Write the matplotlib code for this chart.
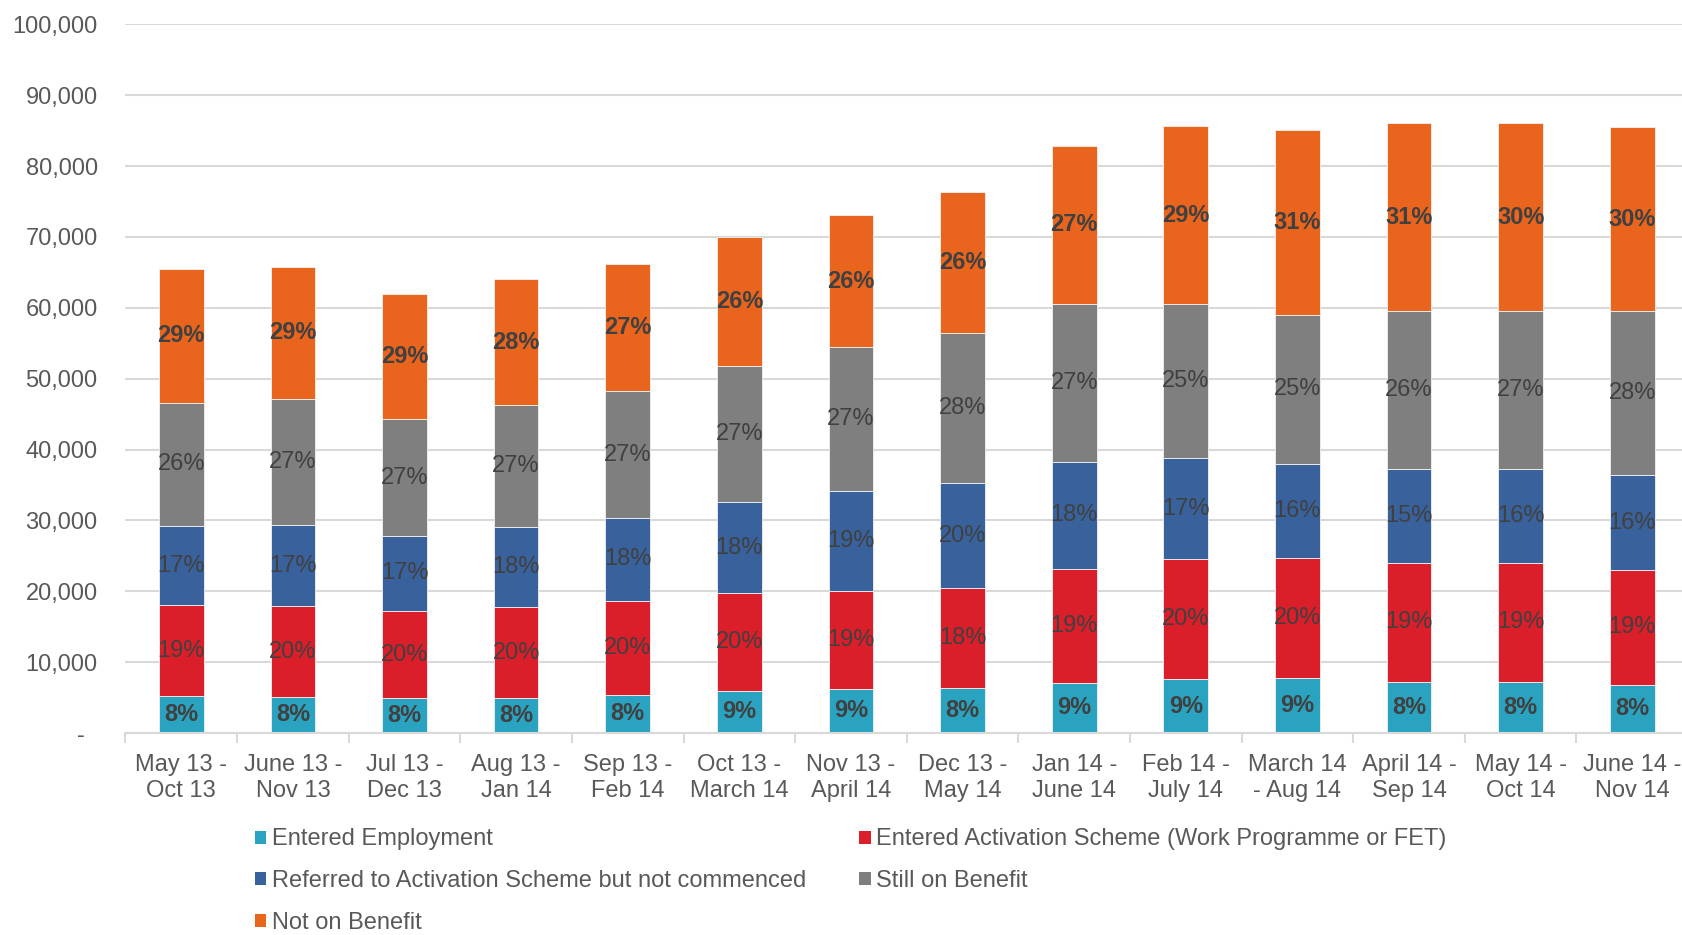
import matplotlib
matplotlib.use("Agg")
import matplotlib.pyplot as plt
from matplotlib.patches import Patch
from matplotlib.ticker import FuncFormatter, FixedLocator
import numpy as np

plt.rcParams['font.family'] = ['Liberation Sans', 'DejaVu Sans']

## periods along the x axis
periods = ["May 13 -\nOct 13", "June 13 -\nNov 13", "Jul 13 -\nDec 13", "Aug 13 -\nJan 14",
           "Sep 13 -\nFeb 14", "Oct 13 -\nMarch 14", "Nov 13 -\nApril 14", "Dec 13 -\nMay 14",
           "Jan 14 -\nJune 14", "Feb 14 -\nJuly 14", "March 14\n- Aug 14", "April 14 -\nSep 14",
           "May 14 -\nOct 14", "June 14 -\nNov 14"]

## counts per outcome (stacked bottom to top)
entered_employment = [5200, 5100, 4900, 4900, 5400, 6000, 6250, 6400, 7100, 7600, 7700, 7200, 7200, 6800]
entered_activation = [12800, 12800, 12350, 12900, 13300, 13700, 13850, 14000, 16100, 16900, 17000, 16800, 16800, 16200]
referred_not_started = [11200, 11400, 10550, 11300, 11600, 12900, 14100, 14900, 15100, 14300, 13300, 13200, 13200, 13400]
still_on_benefit = [17400, 17800, 16500, 17200, 17900, 19200, 20200, 21100, 22200, 21700, 21000, 22300, 22300, 23100]
not_on_benefit = [18900, 18700, 17700, 17700, 18000, 18200, 18700, 19900, 22400, 25100, 26100, 26600, 26600, 26000]

## percentage labels as printed on the bars
pct_employment = [8, 8, 8, 8, 8, 9, 9, 8, 9, 9, 9, 8, 8, 8]
pct_activation = [19, 20, 20, 20, 20, 20, 19, 18, 19, 20, 20, 19, 19, 19]
pct_referred = [17, 17, 17, 18, 18, 18, 19, 20, 18, 17, 16, 15, 16, 16]
pct_still = [26, 27, 27, 27, 27, 27, 27, 28, 27, 25, 25, 26, 27, 28]
pct_not = [29, 29, 29, 28, 27, 26, 26, 26, 27, 29, 31, 31, 30, 30]

series = [
    ("Entered Employment", entered_employment, pct_employment, "#2AA3C0", "bold"),
    ("Entered Activation Scheme (Work Programme or FET)", entered_activation, pct_activation, "#DA1F2A", "normal"),
    ("Referred to Activation Scheme but not commenced", referred_not_started, pct_referred, "#39629C", "normal"),
    ("Still on Benefit", still_on_benefit, pct_still, "#7F7F7F", "normal"),
    ("Not on Benefit", not_on_benefit, pct_not, "#E9651E", "bold"),
]

fig = plt.figure(figsize=(16.82, 9.35), dpi=100)
ax = fig.add_axes([0.0746, 0.216, 0.929, 0.758])

x = np.arange(len(periods))
bottom = np.zeros(len(periods))
handles = []
for name, vals, pcts, col, weight in series:
    bars = ax.bar(x, vals, 0.4, bottom=bottom, color=col, edgecolor="#f2f2f2", linewidth=0.6, zorder=3)
    ax.bar_label(bars, labels=[f"{p}%" for p in pcts], label_type="center",
                 fontsize=17, color="#404040", fontweight=weight)
    bottom += np.array(vals)
    handles.append(Patch(facecolor=col, label=name))

ax.set_xlim(-0.5, len(periods) - 0.5)
ax.set_ylim(0, 100000)
ax.set_yticks(np.arange(0, 100001, 10000))
ax.yaxis.set_major_formatter(FuncFormatter(lambda v, p: "-  " if v == 0 else f"{v:,.0f}"))
ax.grid(axis="y", color="#D9D9D9", linewidth=1.5, zorder=0)
ax.set_axisbelow(True)
for s in ["top", "right", "left"]:
    ax.spines[s].set_visible(False)
ax.spines["bottom"].set_color("#D9D9D9")
ax.spines["bottom"].set_linewidth(1.5)
ax.spines["bottom"].set_zorder(4)

ax.tick_params(axis="y", length=0, pad=20, labelsize=17, labelcolor="#595959")
ax.xaxis.set_major_locator(FixedLocator(x))
ax.set_xticklabels(periods)
ax.xaxis.set_minor_locator(FixedLocator(np.arange(-0.5, len(periods), 1)))
ax.tick_params(axis="x", which="major", length=0, pad=15, labelsize=17, labelcolor="#595959")
ax.tick_params(axis="x", which="minor", length=7, width=1.5, color="#D9D9D9")
for t in ax.get_xticklabels():
    t.set_linespacing(1.27)

order = [0, 2, 4, 1, 3]
fig.legend([handles[i] for i in order], [handles[i].get_label() for i in order],
           ncol=2, loc="upper left", bbox_to_anchor=(0.1515, 0.114), frameon=False,
           fontsize=17, labelcolor="#595959", handlelength=0.47, handleheight=0.47,
           handletextpad=0.25, columnspacing=2.26, labelspacing=0.84, borderpad=0, borderaxespad=0)

fig.savefig("out.png", dpi=100)
